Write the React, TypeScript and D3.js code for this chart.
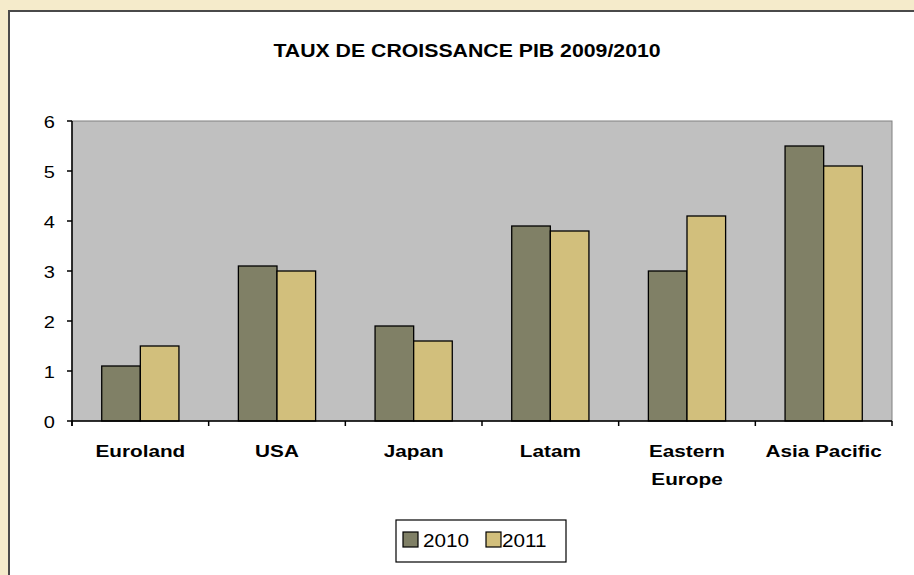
import React from "react";
import * as d3 from "d3";

const categories = ["Euroland", "USA", "Japan", "Latam", "Eastern Europe", "Asia Pacific"];
const categoryLines = [["Euroland"], ["USA"], ["Japan"], ["Latam"], ["Eastern", "Europe"], ["Asia Pacific"]];
const seriesNames = ["2010", "2011"];
const values2010 = [1.1, 3.1, 1.9, 3.9, 3.0, 5.5];
const values2011 = [1.5, 3.0, 1.6, 3.8, 4.1, 5.1];
const yTicks = [0, 1, 2, 3, 4, 5, 6];
const title = "TAUX DE CROISSANCE PIB 2009/2010";

const W = 914;
const H = 575;
const colors = ["#808066", "#D2BF7C"];
const font = "'Liberation Sans', Arial, sans-serif";

function SText(props: { x: number; y: number; sx: number; anchor?: string; size: number; bold?: boolean; children: React.ReactNode }) {
  const { x, y, sx, anchor, size, bold, children } = props;
  return (
    <text transform={`translate(${x},${y}) scale(${sx},1)`} textAnchor={anchor || "start"} fontSize={size}
      fontWeight={bold ? "bold" : "normal"} fill="#000">{children}</text>
  );
}

export default function App() {
  const left = 72, right = 892, top = 121, bottom = 421;
  const x = d3.scaleBand<string>().domain(categories).range([left, right]).paddingInner(0).paddingOuter(0);
  const y = d3.scaleLinear().domain([0, 6]).range([bottom, top]);
  const groupW = x.bandwidth() * 0.565;
  const inner = d3.scaleBand<string>().domain(seriesNames).range([0, groupW]);
  const series = [values2010, values2011];

  return (
    <svg width={W} height={H} style={{ position: "absolute", left: 0, top: 0 }} fontFamily={font}>
      <rect x={0} y={0} width={W} height={H} fill="#F5EBCB" />
      <rect x={9} y={11} width={W + 20} height={H + 20} fill="#FFFFFF" stroke="#4a4a4a" strokeWidth={2} />
      <SText x={467} y={57} sx={1.12} anchor="middle" size={19} bold>{title}</SText>
      <rect x={left} y={top} width={right - left} height={bottom - top} fill="#C0C0C0" stroke="#808080" strokeWidth={1} />
      {categories.map((c, i) =>
        series.map((vals, s) => {
          const bx = (x(c) as number) + (x.bandwidth() - groupW) / 2 + (inner(seriesNames[s]) as number);
          return (
            <rect key={c + s} x={bx} y={y(vals[i])} width={inner.bandwidth()} height={y(0) - y(vals[i])}
              fill={colors[s]} stroke="#000" strokeWidth={1.3} />
          );
        })
      )}
      <line x1={left} x2={left} y1={top} y2={bottom + 5} stroke="#000" strokeWidth={1.5} />
      <line x1={left} x2={right} y1={bottom} y2={bottom} stroke="#000" strokeWidth={1.5} />
      {yTicks.map((t) => (
        <g key={t}>
          <line x1={left - 5} x2={left} y1={y(t)} y2={y(t)} stroke="#000" strokeWidth={1.5} />
          <SText x={55} y={y(t) + 7} sx={1.25} anchor="end" size={16}>{t}</SText>
        </g>
      ))}
      {categories.map((c, i) => (
        <g key={c}>
          <line x1={x(c) as number} x2={x(c) as number} y1={bottom} y2={bottom + 5} stroke="#000" strokeWidth={1.5} />
          {categoryLines[i].map((ln, k) => (
            <SText key={k} x={(x(c) as number) + x.bandwidth() / 2} y={457 + k * 28} sx={1.22} anchor="middle" size={17} bold>{ln}</SText>
          ))}
        </g>
      ))}
      <line x1={right} x2={right} y1={bottom} y2={bottom + 5} stroke="#000" strokeWidth={1.5} />
      <rect x={396} y={520} width={170} height={42} fill="#FFF" stroke="#000" strokeWidth={1.2} />
      {seriesNames.map((s, k) => (
        <g key={s}>
          <rect x={403 + k * 83} y={532} width={15} height={15} fill={colors[k]} stroke="#000" strokeWidth={1.2} />
          <SText x={423 + k * 79} y={547} sx={1.15} size={18}>{s}</SText>
        </g>
      ))}
    </svg>
  );
}
